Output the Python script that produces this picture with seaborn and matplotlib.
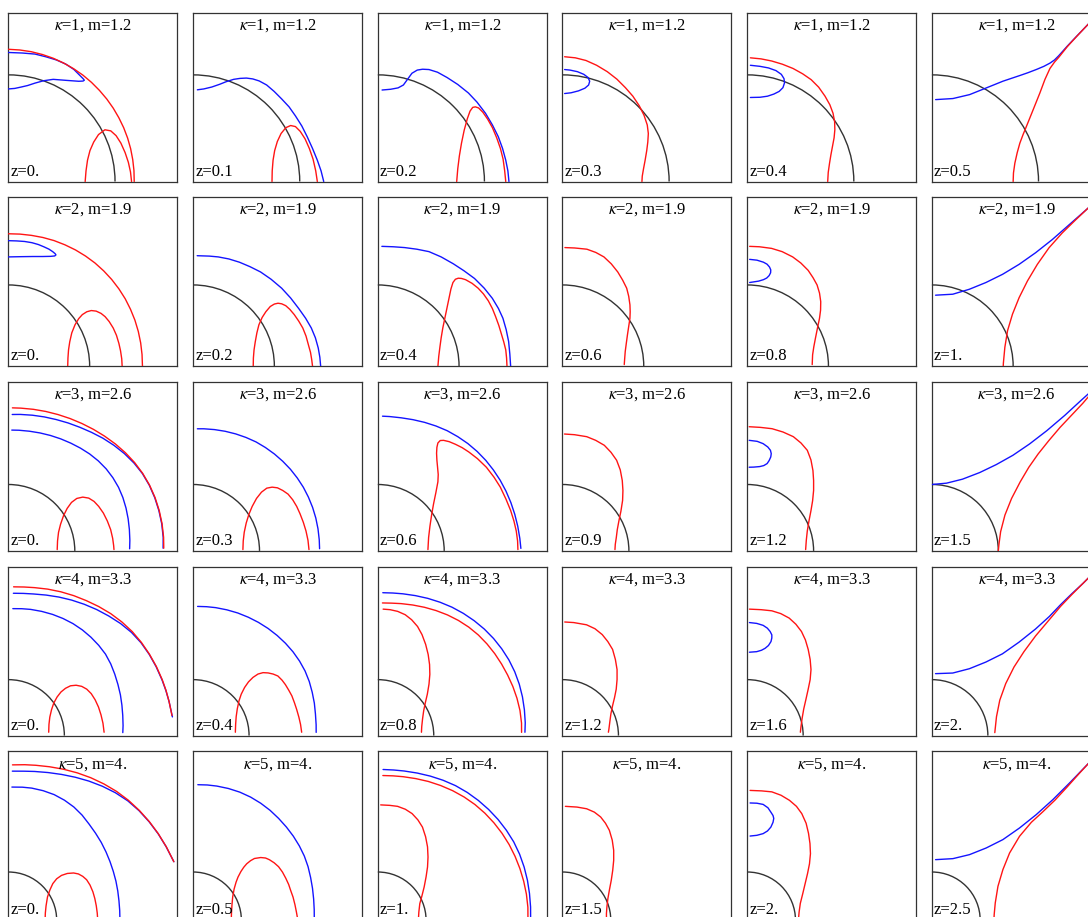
import numpy as np
import matplotlib
matplotlib.use("Agg")
import matplotlib.pyplot as plt
from matplotlib.patches import Arc
import seaborn as sns

# ---------------- data ----------------
KAPPA = [1, 2, 3, 4, 5]
M_LABELS = ["1.2", "1.9", "2.6", "3.3", "4."]
Z_LABELS = [
    ["0.", "0.1", "0.2", "0.3", "0.4", "0.5"],
    ["0.", "0.2", "0.4", "0.6", "0.8", "1."],
    ["0.", "0.3", "0.6", "0.9", "1.2", "1.5"],
    ["0.", "0.4", "0.8", "1.2", "1.6", "2."],
    ["0.", "0.5", "1.", "1.5", "2.", "2.5"],
]
PLOT_RANGE = [1.585, 2.08, 2.545, 3.02, 3.5]
HORIZON_R = 1.0

# Curves.  "red"/"blue": lists of (x, y) points;
# "red_polar"/"blue_polar": lists of (angle in degrees, radius) readings.

# ---- kappa = 1 ----
K1_Z1 = {
    "red_polar": [
        [(90, 1.24), (85, 1.238), (80, 1.236), (75, 1.233), (70, 1.23), (65, 1.226), (60, 1.222),
         (55, 1.218), (50, 1.213), (45, 1.208), (40, 1.204), (35, 1.2), (30, 1.196), (25, 1.193),
         (20, 1.19), (15, 1.187), (10, 1.184), (5, 1.182), (0, 1.18)],
    ],
    "red": [
        [(0.72, 0), (0.728, 0.10), (0.742, 0.20), (0.765, 0.29), (0.80, 0.37), (0.845, 0.44), (0.905, 0.485),
         (0.96, 0.475), (1.01, 0.43), (1.055, 0.36), (1.095, 0.27), (1.125, 0.18), (1.145, 0.09), (1.155, 0)],
    ],
    "blue": [
        [(0, 1.21), (0.13, 1.205), (0.25, 1.195), (0.35, 1.17), (0.45, 1.14), (0.54, 1.10), (0.615, 1.05),
         (0.665, 1.0), (0.70, 0.965), (0.712, 0.95), (0.70, 0.942), (0.66, 0.94), (0.55, 0.948),
         (0.42, 0.958), (0.33, 0.945), (0.25, 0.923), (0.18, 0.90), (0.12, 0.886), (0.06, 0.873),
         (0, 0.868)],
    ],
}
K1_Z2 = {
    "red": [
        [(0.74, 0), (0.742, 0.10), (0.75, 0.20), (0.765, 0.29), (0.79, 0.375), (0.825, 0.45), (0.87, 0.505),
         (0.915, 0.525), (0.96, 0.515), (1.005, 0.47), (1.05, 0.40), (1.09, 0.31), (1.125, 0.21),
         (1.15, 0.10), (1.165, 0)],
    ],
    "blue": [
        [(0.04, 0.86), (0.10, 0.868), (0.175, 0.886), (0.25, 0.912), (0.31, 0.936), (0.38, 0.958),
         (0.44, 0.967), (0.50, 0.97), (0.56, 0.962), (0.62, 0.943), (0.69, 0.905), (0.76, 0.845),
         (0.83, 0.775), (0.90, 0.70), (0.96, 0.615), (1.02, 0.52), (1.07, 0.42), (1.12, 0.31),
         (1.165, 0.20), (1.20, 0.10), (1.225, 0)],
    ],
}
K1_Z3 = {
    "red": [
        [(0.74, 0), (0.75, 0.12), (0.765, 0.24), (0.785, 0.36), (0.81, 0.48), (0.84, 0.59), (0.865, 0.66),
         (0.89, 0.695), (0.915, 0.70), (0.945, 0.69), (0.985, 0.65), (1.03, 0.585), (1.075, 0.505),
         (1.115, 0.41), (1.15, 0.31), (1.175, 0.21), (1.19, 0.10), (1.20, 0)],
    ],
    "blue": [
        [(0.04, 0.858), (0.12, 0.865), (0.19, 0.878), (0.24, 0.905), (0.28, 0.96), (0.32, 1.015),
         (0.37, 1.045), (0.42, 1.053), (0.48, 1.05), (0.56, 1.025), (0.65, 0.975), (0.75, 0.91),
         (0.85, 0.83), (0.93, 0.745), (1.01, 0.64), (1.075, 0.53), (1.13, 0.42), (1.17, 0.31),
         (1.20, 0.20), (1.22, 0.10), (1.23, 0)],
    ],
}
K1_Z4 = {
    "red": [
        [(0.02, 1.17), (0.12, 1.16), (0.22, 1.135), (0.32, 1.09), (0.42, 1.03), (0.51, 0.96), (0.59, 0.88),
         (0.66, 0.80), (0.72, 0.71), (0.765, 0.62), (0.795, 0.53), (0.805, 0.45), (0.80, 0.37),
         (0.79, 0.29), (0.775, 0.20), (0.76, 0.12), (0.748, 0.05), (0.745, 0)],
    ],
    "blue": [
        [(0.02, 1.05), (0.07, 1.045), (0.14, 1.03), (0.20, 1.005), (0.24, 0.975), (0.255, 0.94),
         (0.245, 0.905), (0.21, 0.875), (0.15, 0.85), (0.08, 0.832), (0.02, 0.825)],
    ],
}
K1_Z5 = {
    "red": [
        [(0.03, 1.16), (0.13, 1.15), (0.23, 1.13), (0.33, 1.10), (0.43, 1.06), (0.52, 1.01), (0.60, 0.955),
         (0.67, 0.885), (0.73, 0.80), (0.775, 0.72), (0.805, 0.64), (0.82, 0.56), (0.822, 0.485),
         (0.815, 0.41), (0.80, 0.33), (0.785, 0.25), (0.772, 0.17), (0.76, 0.085), (0.755, 0)],
    ],
    "blue": [
        [(0.03, 1.09), (0.12, 1.08), (0.2, 1.065), (0.27, 1.04), (0.32, 1.005), (0.345, 0.965),
         (0.35, 0.925), (0.335, 0.88), (0.30, 0.845), (0.25, 0.82), (0.19, 0.80), (0.12, 0.79),
         (0.03, 0.788)],
    ],
}
K1_Z6 = {
    "red": [
        [(0.762, 0), (0.765, 0.08), (0.778, 0.172), (0.80, 0.27), (0.825, 0.36), (0.855, 0.44),
         (0.887, 0.518), (0.95, 0.674), (1.013, 0.831), (1.06, 0.957), (1.107, 1.06), (1.15, 1.12),
         (1.19, 1.165), (1.23, 1.215), (1.27, 1.265), (1.36, 1.363), (1.48, 1.49), (1.62, 1.63)],
    ],
    "blue": [
        [(0.035, 0.768), (0.197, 0.778), (0.354, 0.815), (0.511, 0.878), (0.667, 0.941), (0.825, 0.994),
         (0.90, 1.02), (0.981, 1.051), (1.05, 1.08), (1.107, 1.11), (1.15, 1.14), (1.19, 1.18),
         (1.23, 1.225), (1.27, 1.27), (1.36, 1.365), (1.48, 1.49), (1.62, 1.63)],
    ],
}

# ---- kappa = 2 ----
K2_Z1 = {
    "red_polar": [
        [(90, 1.63), (85, 1.632), (80, 1.635), (75, 1.64), (70, 1.645), (65, 1.648), (60, 1.652),
         (55, 1.655), (50, 1.658), (45, 1.659), (40, 1.66), (35, 1.66), (30, 1.66), (25, 1.658),
         (20, 1.657), (15, 1.655), (10, 1.653), (5, 1.651), (0, 1.65)],
    ],
    "red": [
        [(0.73, 0), (0.733, 0.10), (0.74, 0.20), (0.755, 0.30), (0.78, 0.41), (0.82, 0.51), (0.865, 0.585),
         (0.91, 0.635), (0.965, 0.67), (1.02, 0.685), (1.08, 0.678), (1.14, 0.65), (1.19, 0.61),
         (1.24, 0.55), (1.29, 0.47), (1.33, 0.38), (1.36, 0.28), (1.38, 0.19), (1.395, 0.09), (1.40, 0)],
    ],
    "blue": [
        [(0, 1.545), (0.1, 1.542), (0.2, 1.535), (0.29, 1.52), (0.37, 1.497), (0.44, 1.468), (0.50, 1.44),
         (0.545, 1.41), (0.575, 1.385), (0.585, 1.37), (0.57, 1.357), (0.52, 1.352), (0.42, 1.35),
         (0.30, 1.35), (0.15, 1.348), (0, 1.345)],
    ],
}
K2_Z2 = {
    "red": [
        [(0.74, 0), (0.742, 0.10), (0.75, 0.20), (0.765, 0.30), (0.785, 0.41), (0.81, 0.51), (0.85, 0.60),
         (0.895, 0.67), (0.95, 0.735), (1.0, 0.765), (1.045, 0.775), (1.09, 0.768), (1.14, 0.745),
         (1.19, 0.70), (1.245, 0.635), (1.30, 0.555), (1.35, 0.47), (1.39, 0.37), (1.42, 0.26),
         (1.445, 0.17), (1.46, 0.08), (1.47, 0)],
    ],
    "blue": [
        [(0.05, 1.36), (0.20, 1.355), (0.31, 1.345), (0.44, 1.32), (0.57, 1.28), (0.70, 1.225), (0.83, 1.16),
         (0.96, 1.07), (1.09, 0.96), (1.20, 0.84), (1.30, 0.71), (1.385, 0.59), (1.455, 0.47),
         (1.505, 0.35), (1.54, 0.225), (1.56, 0.11), (1.57, 0)],
    ],
}
K2_Z3 = {
    "red": [
        [(0.74, 0), (0.75, 0.12), (0.765, 0.24), (0.78, 0.35), (0.80, 0.47), (0.825, 0.59), (0.85, 0.71),
         (0.875, 0.83), (0.90, 0.95), (0.925, 1.03), (0.955, 1.07), (0.99, 1.083), (1.03, 1.08),
         (1.08, 1.065), (1.16, 1.02), (1.235, 0.96), (1.30, 0.89), (1.36, 0.805), (1.41, 0.71),
         (1.45, 0.61), (1.49, 0.50), (1.52, 0.40), (1.55, 0.30), (1.575, 0.20), (1.585, 0.10), (1.59, 0)],
    ],
    "blue": [
        [(0.05, 1.475), (0.19, 1.47), (0.33, 1.46), (0.48, 1.44), (0.63, 1.41), (0.78, 1.345), (0.93, 1.26),
         (1.06, 1.175), (1.19, 1.08), (1.31, 0.96), (1.41, 0.835), (1.485, 0.71), (1.54, 0.59),
         (1.58, 0.45), (1.61, 0.305), (1.625, 0.15), (1.635, 0)],
    ],
}
K2_Z4 = {
    "red": [
        [(0.03, 1.46), (0.15, 1.455), (0.30, 1.44), (0.41, 1.40), (0.51, 1.345), (0.60, 1.26), (0.68, 1.16),
         (0.74, 1.06), (0.79, 0.96), (0.815, 0.86), (0.83, 0.755), (0.833, 0.67), (0.83, 0.59),
         (0.815, 0.49), (0.80, 0.39), (0.785, 0.28), (0.772, 0.18), (0.765, 0.09), (0.76, 0.02)],
    ],
}
K2_Z5 = {
    "red": [
        [(0.03, 1.475), (0.15, 1.47), (0.30, 1.45), (0.43, 1.41), (0.56, 1.345), (0.66, 1.27), (0.75, 1.18),
         (0.81, 1.09), (0.86, 1.0), (0.89, 0.90), (0.905, 0.795), (0.903, 0.69), (0.89, 0.59),
         (0.865, 0.47), (0.84, 0.345), (0.82, 0.24), (0.805, 0.14), (0.80, 0.02)],
    ],
    "blue": [
        [(0.03, 1.315), (0.12, 1.305), (0.20, 1.28), (0.245, 1.255), (0.275, 1.22), (0.29, 1.185),
         (0.288, 1.15), (0.27, 1.115), (0.24, 1.085), (0.20, 1.065), (0.14, 1.047), (0.03, 1.03)],
    ],
}
K2_Z6 = {
    "red": [
        [(0.878, 0), (0.88, 0.041), (0.898, 0.233), (0.931, 0.437), (0.992, 0.641), (1.074, 0.845),
         (1.176, 1.049), (1.298, 1.254), (1.441, 1.457), (1.604, 1.64), (1.768, 1.80), (1.927, 1.95),
         (2.12, 2.13)],
    ],
    "blue": [
        [(0.045, 0.874), (0.257, 0.886), (0.461, 0.947), (0.665, 1.03), (0.87, 1.131), (1.074, 1.254),
         (1.277, 1.397), (1.482, 1.559), (1.645, 1.702), (1.809, 1.846), (1.927, 1.95), (2.12, 2.13)],
    ],
}

# ---- kappa = 3 ----
K3_Z1 = {
    "red_polar": [
        [(88.4, 2.155), (85, 2.158), (80, 2.165), (75, 2.174), (70, 2.185), (65, 2.199), (60, 2.215),
         (55, 2.234), (50, 2.255), (45, 2.278), (40, 2.30), (35, 2.32), (30, 2.335), (25, 2.345),
         (20, 2.35), (15, 2.351), (10, 2.35), (5, 2.346), (1, 2.34)],
    ],
    "blue_polar": [
        [(88.4, 2.055), (85, 2.063), (80, 2.075), (75, 2.089), (70, 2.105), (65, 2.126), (60, 2.15),
         (55, 2.18), (50, 2.215), (45, 2.248), (40, 2.28), (35, 2.308), (30, 2.33), (25, 2.341),
         (20, 2.345), (15, 2.346), (10, 2.345), (5, 2.34), (1, 2.33)],
        [(88.4, 1.82), (85, 1.824), (80, 1.83), (75, 1.839), (70, 1.85), (65, 1.862), (60, 1.875),
         (55, 1.89), (50, 1.905), (45, 1.916), (40, 1.922), (35, 1.921), (30, 1.915), (25, 1.902),
         (20, 1.885), (15, 1.867), (10, 1.85), (5, 1.836), (1, 1.826)],
    ],
    "red": [
        [(0.735, 0.02), (0.74, 0.15), (0.755, 0.28), (0.785, 0.40), (0.83, 0.53), (0.885, 0.64),
         (0.95, 0.73), (1.03, 0.79), (1.12, 0.81), (1.21, 0.795), (1.29, 0.745), (1.36, 0.67),
         (1.43, 0.57), (1.49, 0.45), (1.54, 0.32), (1.57, 0.19), (1.585, 0.08), (1.59, 0.02)],
    ],
}
K3_Z2 = {
    "red": [
        [(0.75, 0.02), (0.755, 0.15), (0.77, 0.28), (0.80, 0.42), (0.84, 0.55), (0.89, 0.67), (0.955, 0.79),
         (1.03, 0.885), (1.11, 0.945), (1.19, 0.96), (1.27, 0.95), (1.35, 0.91), (1.43, 0.855),
         (1.50, 0.77), (1.56, 0.67), (1.61, 0.56), (1.66, 0.43), (1.70, 0.30), (1.73, 0.16), (1.745, 0.02)],
    ],
    "blue_polar": [
        [(88, 1.84), (85, 1.846), (80, 1.855), (75, 1.865), (70, 1.875), (65, 1.885), (60, 1.895),
         (55, 1.9), (50, 1.905), (45, 1.909), (40, 1.913), (35, 1.915), (30, 1.917), (25, 1.916),
         (20, 1.915), (15, 1.913), (10, 1.91), (5, 1.907), (1, 1.905)],
    ],
}
K3_Z3 = {
    "red": [
        [(0.755, 0.02), (0.765, 0.20), (0.785, 0.37), (0.81, 0.54), (0.84, 0.71), (0.875, 0.88),
         (0.905, 1.04), (0.91, 1.15), (0.90, 1.26), (0.89, 1.365), (0.885, 1.47), (0.89, 1.56),
         (0.905, 1.625), (0.94, 1.662), (0.99, 1.665), (1.075, 1.645), (1.17, 1.605), (1.27, 1.555),
         (1.37, 1.49), (1.50, 1.39), (1.635, 1.26), (1.75, 1.11), (1.845, 0.96), (1.93, 0.78),
         (2.0, 0.61), (2.05, 0.45), (2.085, 0.30), (2.105, 0.15), (2.11, 0.02)],
    ],
    "blue_polar": [
        [(88, 2.03), (85, 2.031), (80, 2.035), (75, 2.046), (70, 2.06), (65, 2.075), (60, 2.09),
         (55, 2.1), (50, 2.11), (45, 2.117), (40, 2.122), (35, 2.125), (30, 2.128), (25, 2.13),
         (20, 2.132), (15, 2.135), (10, 2.14), (5, 2.147), (1, 2.155)],
    ],
}
K3_Z4 = {
    "red": [
        [(0.03, 1.76), (0.18, 1.75), (0.365, 1.72), (0.50, 1.665), (0.63, 1.59), (0.73, 1.485),
         (0.815, 1.365), (0.87, 1.22), (0.90, 1.06), (0.91, 0.91), (0.905, 0.76), (0.88, 0.60),
         (0.85, 0.455), (0.825, 0.32), (0.81, 0.20), (0.795, 0.10), (0.79, 0.02)],
    ],
}
K3_Z5 = {
    "red": [
        [(0.03, 1.87), (0.20, 1.86), (0.375, 1.84), (0.54, 1.79), (0.695, 1.72), (0.81, 1.625),
         (0.905, 1.515), (0.96, 1.37), (0.99, 1.21), (1.0, 1.06), (1.0, 0.91), (0.985, 0.755),
         (0.96, 0.605), (0.93, 0.45), (0.905, 0.30), (0.89, 0.16), (0.88, 0.02)],
    ],
    "blue": [
        [(0.03, 1.665), (0.15, 1.65), (0.24, 1.615), (0.31, 1.565), (0.35, 1.515), (0.362, 1.465),
         (0.355, 1.415), (0.33, 1.36), (0.30, 1.315), (0.25, 1.285), (0.19, 1.27), (0.10, 1.262),
         (0.03, 1.26)],
    ],
}
K3_Z6 = {
    "red": [
        [(1.0, 0.0), (1.01, 0.1), (1.035, 0.29), (1.10, 0.54), (1.20, 0.79), (1.33, 1.04), (1.46, 1.26),
         (1.60, 1.46), (1.76, 1.66), (1.93, 1.86), (2.10, 2.04), (2.27, 2.22), (2.45, 2.43), (2.62, 2.62)],
    ],
    "blue": [
        [(0.0, 1.0), (0.22, 1.02), (0.46, 1.08), (0.72, 1.18), (0.97, 1.30), (1.22, 1.44), (1.47, 1.61),
         (1.73, 1.81), (2.0, 2.04), (2.25, 2.27), (2.45, 2.45), (2.62, 2.62)],
    ],
}

# ---- kappa = 4 ----
K4_Z1 = {
    "red_polar": [
        [(88, 2.66), (84, 2.67), (80, 2.685), (75, 2.71), (70, 2.735), (65, 2.76), (60, 2.785),
         (55, 2.815), (50, 2.845), (45, 2.87), (40, 2.89), (35, 2.902), (30, 2.91), (25, 2.918),
         (20, 2.925), (16, 2.93), (12, 2.935), (7, 2.945)],
    ],
    "blue_polar": [
        [(88, 2.545), (84, 2.555), (80, 2.57), (75, 2.6), (70, 2.635), (65, 2.672), (60, 2.71),
         (55, 2.75), (50, 2.79), (45, 2.833), (40, 2.87), (35, 2.893), (30, 2.905), (25, 2.913),
         (20, 2.92), (16, 2.927), (12, 2.935), (6.5, 2.95)],
        [(88, 2.27), (84, 2.28), (80, 2.29), (75, 2.298), (70, 2.305), (65, 2.309), (60, 2.31),
         (55, 2.305), (50, 2.295), (45, 2.282), (40, 2.265), (35, 2.233), (30, 2.195), (25, 2.16),
         (20, 2.13), (15, 2.1), (10, 2.075), (5, 2.057), (1.5, 2.045)],
    ],
    "red": [
        [(0.72, 0.06), (0.725, 0.2), (0.74, 0.33), (0.77, 0.46), (0.81, 0.58), (0.87, 0.69), (0.94, 0.78),
         (1.02, 0.845), (1.11, 0.89), (1.21, 0.90), (1.31, 0.88), (1.40, 0.83), (1.48, 0.75),
         (1.55, 0.64), (1.61, 0.51), (1.655, 0.37), (1.69, 0.22), (1.71, 0.06)],
    ],
}
K4_Z2 = {
    "red": [
        [(0.755, 0.06), (0.76, 0.2), (0.77, 0.34), (0.79, 0.48), (0.82, 0.62), (0.86, 0.74), (0.92, 0.86),
         (0.99, 0.96), (1.07, 1.04), (1.16, 1.10), (1.25, 1.125), (1.34, 1.12), (1.43, 1.10),
         (1.515, 1.065), (1.59, 0.99), (1.65, 0.91), (1.71, 0.81), (1.765, 0.71), (1.81, 0.59),
         (1.85, 0.47), (1.89, 0.33), (1.92, 0.2), (1.94, 0.06)],
    ],
    "blue_polar": [
        [(88, 2.31), (84, 2.316), (80, 2.322), (75, 2.327), (70, 2.332), (65, 2.334), (60, 2.336),
         (55, 2.337), (50, 2.336), (45, 2.334), (40, 2.33), (35, 2.322), (30, 2.31), (25, 2.29),
         (20, 2.265), (15, 2.243), (10, 2.22), (5, 2.207), (1.5, 2.2)],
    ],
}
K4_Z3 = {
    "red_polar": [
        [(88, 2.372), (84, 2.38), (80, 2.395), (75, 2.416), (70, 2.44), (65, 2.465), (60, 2.49),
         (55, 2.512), (50, 2.53), (45, 2.542), (40, 2.548), (35, 2.552), (30, 2.555), (25, 2.56),
         (20, 2.568), (15, 2.575), (10, 2.58), (5, 2.578), (1.3, 2.57)],
    ],
    "red": [
        [(0.095, 2.26), (0.22, 2.25), (0.355, 2.22), (0.49, 2.16), (0.605, 2.07), (0.71, 1.95),
         (0.79, 1.805), (0.855, 1.63), (0.90, 1.45), (0.925, 1.27), (0.93, 1.095), (0.915, 0.92),
         (0.885, 0.74), (0.85, 0.59), (0.82, 0.445), (0.80, 0.30), (0.785, 0.16), (0.78, 0.06)],
    ],
    "blue_polar": [
        [(88, 2.555), (84, 2.562), (80, 2.573), (75, 2.59), (70, 2.61), (65, 2.63), (60, 2.65),
         (55, 2.666), (50, 2.68), (45, 2.692), (40, 2.70), (35, 2.704), (30, 2.705), (25, 2.7),
         (20, 2.69), (15, 2.676), (10, 2.66), (5, 2.645), (1.3, 2.63)],
    ],
}
K4_Z4 = {
    "red": [
        [(0.04, 2.03), (0.20, 2.02), (0.43, 1.98), (0.58, 1.91), (0.71, 1.805), (0.81, 1.68), (0.895, 1.54),
         (0.945, 1.36), (0.975, 1.18), (0.975, 1.0), (0.96, 0.83), (0.93, 0.68), (0.895, 0.535),
         (0.865, 0.39), (0.845, 0.24), (0.83, 0.12), (0.82, 0.06)],
    ],
}
K4_Z5 = {
    "red": [
        [(0.04, 2.26), (0.25, 2.25), (0.44, 2.23), (0.60, 2.18), (0.75, 2.10), (0.87, 1.99), (0.97, 1.86),
         (1.04, 1.71), (1.09, 1.54), (1.125, 1.36), (1.14, 1.18), (1.125, 1.0), (1.09, 0.83),
         (1.05, 0.65), (1.01, 0.475), (0.98, 0.30), (0.96, 0.15), (0.95, 0.06)],
    ],
    "blue": [
        [(0.04, 2.02), (0.17, 2.005), (0.285, 1.97), (0.36, 1.92), (0.41, 1.86), (0.44, 1.80),
         (0.44, 1.745), (0.425, 1.68), (0.38, 1.61), (0.32, 1.56), (0.255, 1.525), (0.17, 1.50),
         (0.04, 1.49)],
    ],
}
K4_Z6 = {
    "red": [
        [(1.124, 0.053), (1.154, 0.337), (1.213, 0.633), (1.319, 0.929), (1.467, 1.225), (1.645, 1.50),
         (1.852, 1.78), (2.08, 2.05), (2.30, 2.31), (2.50, 2.52), (2.70, 2.72), (3.05, 3.07)],
    ],
    "blue": [
        [(0.065, 1.107), (0.373, 1.118), (0.669, 1.195), (0.964, 1.314), (1.26, 1.461), (1.556, 1.669),
         (1.852, 1.905), (2.10, 2.13), (2.30, 2.34), (2.50, 2.535), (2.70, 2.72), (3.05, 3.07)],
    ],
}

# ---- kappa = 5 ----
K5_Z1 = {
    "red_polar": [
        [(88.5, 3.22), (84, 3.24), (80, 3.26), (75, 3.292), (70, 3.33), (65, 3.37), (60, 3.41),
         (55, 3.448), (50, 3.485), (45, 3.515), (40, 3.54), (35, 3.563), (30, 3.585), (25, 3.607),
         (19.5, 3.635)],
    ],
    "blue_polar": [
        [(88.5, 3.09), (84, 3.105), (80, 3.13), (75, 3.168), (70, 3.215), (65, 3.27), (60, 3.33),
         (55, 3.39), (50, 3.448), (45, 3.498), (40, 3.532), (35, 3.558), (30, 3.582), (25, 3.605),
         (19.5, 3.635)],
        [(88.5, 2.76), (84, 2.772), (80, 2.78), (75, 2.779), (70, 2.77), (65, 2.745), (60, 2.71),
         (55, 2.66), (50, 2.60), (45, 2.552), (40, 2.51), (35, 2.468), (30, 2.43), (25, 2.397),
         (20, 2.37), (15, 2.345), (10, 2.325), (5, 2.314), (0, 2.31)],
    ],
    "red": [
        [(0.76, 0.0), (0.765, 0.15), (0.78, 0.30), (0.81, 0.485), (0.86, 0.63), (0.92, 0.76), (1.0, 0.86),
         (1.10, 0.93), (1.22, 0.97), (1.35, 0.98), (1.45, 0.96), (1.54, 0.91), (1.62, 0.84),
         (1.69, 0.73), (1.75, 0.59), (1.79, 0.45), (1.82, 0.30), (1.84, 0.15), (1.85, 0.0)],
    ],
}
K5_Z2 = {
    "red": [
        [(0.79, 0.0), (0.795, 0.15), (0.805, 0.32), (0.82, 0.485), (0.85, 0.65), (0.89, 0.79),
         (0.93, 0.895), (0.99, 1.01), (1.05, 1.10), (1.11, 1.17), (1.19, 1.235), (1.27, 1.28),
         (1.40, 1.30), (1.50, 1.29), (1.58, 1.255), (1.68, 1.19), (1.77, 1.11), (1.85, 1.0),
         (1.92, 0.87), (1.98, 0.74), (2.02, 0.62), (2.07, 0.48), (2.11, 0.32), (2.14, 0.17), (2.17, 0.0)],
    ],
    "blue_polar": [
        [(88, 2.81), (84, 2.818), (80, 2.823), (75, 2.826), (70, 2.825), (65, 2.816), (60, 2.80),
         (55, 2.78), (50, 2.755), (45, 2.732), (40, 2.71), (35, 2.686), (30, 2.66), (25, 2.627),
         (20, 2.59), (15, 2.56), (10, 2.535), (5, 2.518), (0, 2.51)],
    ],
}
K5_Z3 = {
    "red_polar": [
        [(88, 3.0), (84, 3.008), (80, 3.02), (75, 3.038), (70, 3.06), (65, 3.08), (60, 3.10),
         (55, 3.117), (50, 3.13), (45, 3.137), (40, 3.14), (35, 3.141), (30, 3.14), (25, 3.136),
         (20, 3.132), (15, 3.128), (10, 3.125), (5, 3.12), (0, 3.11)],
    ],
    "red": [
        [(0.06, 2.39), (0.25, 2.38), (0.41, 2.36), (0.57, 2.30), (0.71, 2.21), (0.83, 2.08), (0.925, 1.93),
         (0.99, 1.73), (1.03, 1.52), (1.04, 1.31), (1.03, 1.105), (1.0, 0.90), (0.96, 0.69),
         (0.915, 0.51), (0.87, 0.345), (0.85, 0.17), (0.84, 0.0)],
    ],
    "blue_polar": [
        [(88, 3.125), (84, 3.13), (80, 3.14), (75, 3.157), (70, 3.178), (65, 3.2), (60, 3.22),
         (55, 3.232), (50, 3.24), (45, 3.246), (40, 3.25), (35, 3.251), (30, 3.25), (25, 3.24),
         (20, 3.225), (15, 3.208), (10, 3.19), (5, 3.176), (0, 3.165)],
    ],
}
K5_Z4 = {
    "red": [
        [(0.06, 2.36), (0.30, 2.345), (0.50, 2.31), (0.66, 2.24), (0.79, 2.14), (0.89, 2.01), (0.97, 1.865),
         (1.03, 1.66), (1.06, 1.45), (1.06, 1.24), (1.04, 1.035), (1.01, 0.83), (0.97, 0.62),
         (0.94, 0.45), (0.92, 0.28), (0.91, 0.14), (0.91, 0.0)],
    ],
}
K5_Z5 = {
    "red": [
        [(0.06, 2.69), (0.30, 2.68), (0.51, 2.66), (0.70, 2.59), (0.875, 2.485), (1.02, 2.36), (1.13, 2.21),
         (1.22, 2.01), (1.27, 1.80), (1.30, 1.59), (1.31, 1.38), (1.29, 1.17), (1.25, 0.97),
         (1.20, 0.76), (1.15, 0.55), (1.10, 0.35), (1.075, 0.17), (1.06, 0.0)],
    ],
    "blue": [
        [(0.06, 2.43), (0.20, 2.425), (0.33, 2.40), (0.43, 2.33), (0.49, 2.24), (0.535, 2.17), (0.55, 2.11),
         (0.535, 2.03), (0.49, 1.93), (0.42, 1.85), (0.33, 1.795), (0.20, 1.76), (0.06, 1.745)],
    ],
}
K5_Z6 = {
    "red": [
        [(1.284, 0.0), (1.29, 0.12), (1.312, 0.359), (1.368, 0.704), (1.47, 1.049), (1.609, 1.394),
         (1.815, 1.74), (2.06, 2.03), (2.30, 2.25), (2.55, 2.49), (2.80, 2.76), (3.05, 3.04),
         (3.30, 3.31), (3.6, 3.62)],
    ],
    "blue": [
        [(0.076, 1.256), (0.435, 1.277), (0.779, 1.36), (1.125, 1.498), (1.47, 1.671), (1.815, 1.912),
         (2.16, 2.188), (2.505, 2.499), (2.851, 2.844), (3.05, 3.05), (3.30, 3.31), (3.6, 3.62)],
    ],
}

PANELS = [
    [K1_Z1, K1_Z2, K1_Z3, K1_Z4, K1_Z5, K1_Z6],
    [K2_Z1, K2_Z2, K2_Z3, K2_Z4, K2_Z5, K2_Z6],
    [K3_Z1, K3_Z2, K3_Z3, K3_Z4, K3_Z5, K3_Z6],
    [K4_Z1, K4_Z2, K4_Z3, K4_Z4, K4_Z5, K4_Z6],
    [K5_Z1, K5_Z2, K5_Z3, K5_Z4, K5_Z5, K5_Z6],
]

# ---------------- style ----------------
COLORS = {"red": "#ff1414", "blue": "#1414ff"}
sns.set_style("white")
plt.rcParams["font.family"] = ["Liberation Serif", "DejaVu Serif"]
plt.rcParams["mathtext.fontset"] = "stix"

FIG_W, FIG_H = 1088, 917
fig = plt.figure(figsize=(FIG_W / 100, FIG_H / 100), dpi=100)
fig.patch.set_facecolor("white")

X0, Y0, PITCH, BOX = 8.4, 12.5, 184.7, 169.0


def curve_xy(panel, col):
    out = []
    for pts in panel.get(col, []):
        out.append((np.array([p[0] for p in pts]), np.array([p[1] for p in pts])))
    for pts in panel.get(col + "_polar", []):
        th = np.radians([p[0] for p in pts])
        rr = np.array([p[1] for p in pts])
        out.append((rr * np.cos(th), rr * np.sin(th)))
    return out


for r, row in enumerate(PANELS):
    L = PLOT_RANGE[r]
    for c, panel in enumerate(row):
        left = X0 + PITCH * c
        top = Y0 + PITCH * r
        ax = fig.add_axes([left / FIG_W, 1 - (top + BOX) / FIG_H, BOX / FIG_W, BOX / FIG_H])
        ax.set_xlim(0, L)
        ax.set_ylim(0, L)
        ax.add_patch(Arc((0, 0), 2 * HORIZON_R, 2 * HORIZON_R, theta1=0, theta2=90,
                         color="#333333", lw=1.0, zorder=2, clip_on=False))
        for col in ("blue", "red"):
            for xs, ys in curve_xy(panel, col):
                sns.lineplot(x=xs, y=ys, sort=False, estimator=None, color=COLORS[col],
                             lw=1.0, ax=ax, zorder=3)
        ax.set_xticks([])
        ax.set_yticks([])
        ax.set_xlabel("")
        ax.set_ylabel("")
        for s in ax.spines.values():
            s.set_visible(True)
            s.set_color("#333333")
            s.set_linewidth(0.9)
        ax.text(0.5, 0.9, r"$\kappa$=%d, m=%s" % (KAPPA[r], M_LABELS[r]),
                transform=ax.transAxes, ha="center", va="baseline", fontsize=12,
                color="black", zorder=5)
        ax.text(0.012, 0.035, "z=%s" % Z_LABELS[r][c], transform=ax.transAxes,
                ha="left", va="baseline", fontsize=12, color="black", zorder=5)

fig.savefig("out.png", dpi=100, facecolor="white")
